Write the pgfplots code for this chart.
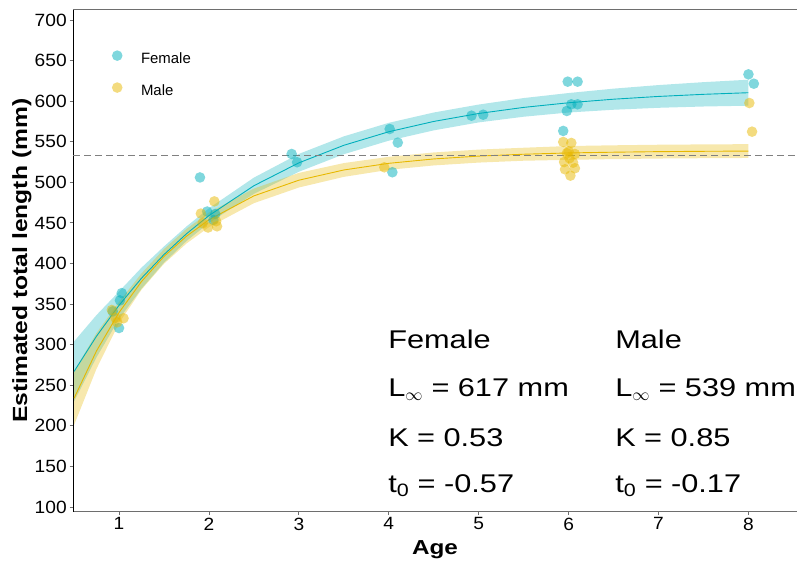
\documentclass[border=0pt]{standalone}
\usepackage{pgfplots}
\pgfplotsset{compat=1.18}
\usepackage{fontspec}
\setmainfont{Liberation Sans}
\newfontfamily\widefont{Liberation Sans}[FakeStretch=1.2]
\newfontfamily\tickfont{Liberation Sans}[FakeStretch=1.08]
\definecolor{fcol}{HTML}{00AFBB}
\definecolor{mcol}{HTML}{E7B800}
\definecolor{axgray}{HTML}{6E6E6E}
\newcommand{\eqs}{\hspace{0.33em}=\hspace{0.33em}}

\begin{document}
\begin{tikzpicture}
\useasboundingbox (0,0) rectangle (797bp,563bp);
\begin{axis}[
  name=ax,
  at={(73bp,51.3bp)}, anchor=south west,
  scale only axis, width=724bp, height=501.7bp,
  xmin=0.488, xmax=8.54, ymin=94.2, ymax=712.3,
  axis x line*=bottom, axis y line*=left,
  x axis line style={draw=axgray, line width=1bp, -},
  y axis line style={draw=black, line width=1bp, -},
  xtick={1,2,3,4,5,6,7,8}, ytick={100,150,...,700},
  tick align=outside, major tick length=3.5bp,
  every tick/.style={axgray, line width=0.9bp},
  /pgf/number format/assume math mode=true,
  tick label style={font=\tickfont\fontsize{17.8}{20}\selectfont, text=black},
  yticklabel style={inner sep=2.6bp},
  xticklabel style={inner sep=2.3bp},
  xlabel={Age},
  ylabel={Estimated total length (mm)},
  xlabel style={font=\widefont\bfseries\fontsize{20.3}{24}\selectfont, at={(axis description cs:0.5,-0.0863)}, anchor=base, inner sep=0pt},
  ylabel style={font=\widefont\bfseries\fontsize{20.6}{24}\selectfont, at={(axis description cs:-0.0635,0.5)}, anchor=base, rotate=0, inner sep=0pt},
  legend style={draw=none, fill=none, at={(axis description cs:0.0535,0.92)}, anchor=north west,
    font=\fontsize{15}{18}\selectfont, row sep=15bp, inner sep=0pt,
    cells={anchor=west, inner sep=0pt},
    /tikz/every odd column/.append style={column sep=16.5bp}},
]
% confidence ribbons
\addplot[draw=none, fill=fcol, fill opacity=0.3, forget plot] coordinates {
(0.5,304) (0.75,336.5) (1,365.5) (1.25,394.9) (1.5,421) (1.75,445.6) (2,468) (2.5,505.8) (3,535) (3.5,556.6) (4,573.3) (4.5,586) (5,595.8) (5.5,603.8) (6,610) (6.5,615.4) (7,619.8) (7.5,623.4) (8,626.4)
(8,594.4) (7.5,593.4) (7,591.8) (6.5,589.4) (6,586) (5.5,580.8) (5,573.8) (4.5,564) (4,551.3) (3.5,534.6) (3,513) (2.5,485.8) (2,450) (1.75,427.6) (1.5,401) (1.25,368.9) (1,331.5) (0.75,284.5) (0.5,230)
} -- cycle;
\addplot[draw=none, fill=mcol, fill opacity=0.32, forget plot] coordinates {
(0.5,267) (0.75,314.4) (1,352.6) (1.25,387.8) (1.5,417.7) (1.75,442.6) (2,462.8) (2.5,492.3) (3,511.6) (3.5,523.7) (4,531.4) (4.5,536.8) (5,540.3) (5.5,542.6) (6,544.7) (6.5,545.6) (7,546.3) (7.5,546.7) (8,547)
(8,530) (7.5,529.7) (7,529.3) (6.5,528.6) (6,527.7) (5.5,526.6) (5,524.3) (4.5,520.8) (4,515.4) (3.5,506.7) (3,493.6) (2.5,474.3) (2,444.8) (1.75,424.6) (1.5,399.7) (1.25,367.8) (1,326.6) (0.75,270.4) (0.5,201)
} -- cycle;
% observed points
\addplot[fcol, only marks, mark=*, mark size=5.3bp, mark options={draw opacity=0, fill=fcol, fill opacity=0.5},
  legend image code/.code={\path[draw=none, fill=fcol, fill opacity=0.5] (0bp,0.35em) circle (5.3bp);}] coordinates {
(1.03,363.5) (1.01,354.5) (0.93,341) (1.00,320.5)
(1.90,506) (1.98,464) (2.07,461) (2.05,453.6)
(2.92,534.9) (2.98,524.7)
(4.01,565.7) (4.10,548.9) (4.04,512.4)
(4.92,582.1) (5.05,583.3)
(5.99,624) (6.10,624) (6.03,596.1) (6.10,596.1) (5.98,587.9) (5.94,563.3)
(8.00,633) (8.06,621.5)
};
\addlegendentry{Female}
\addplot[mcol, only marks, mark=*, mark size=5.3bp, mark options={draw opacity=0, fill=mcol, fill opacity=0.5},
  legend image code/.code={\path[draw=none, fill=mcol, fill opacity=0.5] (0bp,0.35em) circle (5.3bp);}] coordinates {
(0.92,342.7) (1.05,332.5) (0.96,333.2) (0.98,327.5)
(2.06,476.5) (1.91,461.5) (1.93,449.5) (1.99,444.3) (2.09,445.8) (2.08,452)
(3.95,518.5)
(5.94,549.7) (6.03,548.5) (5.98,535.8) (6.07,534.9) (6.01,529.6) (5.95,525) (6.05,524.2) (5.96,516) (6.07,517.3) (6.02,508.2) (6.00,538)
(8.01,597.7) (8.04,562.4)
};
\addlegendentry{Male}
% fitted curves
\addplot[fcol, line width=0.9bp, forget plot] coordinates {
(0.5,267.0) (0.75,310.5) (1,348.5) (1.25,381.9) (1.5,411.0) (1.75,436.6) (2,459.0) (2.5,495.8) (3,524.0) (3.5,545.6) (4,562.3) (4.5,575.0) (5,584.8) (5.5,592.3) (6,598.0) (6.5,602.4) (7,605.8) (7.5,608.4) (8,610.4)
};
\addplot[mcol, line width=0.9bp, forget plot] coordinates {
(0.5,234.0) (0.75,292.4) (1,339.6) (1.25,377.8) (1.5,408.7) (1.75,433.6) (2,453.8) (2.5,483.3) (3,502.6) (3.5,515.2) (4,523.4) (4.5,528.8) (5,532.3) (5.5,534.6) (6,536.2) (6.5,537.1) (7,537.8) (7.5,538.2) (8,538.5)
};
% reference line
\addplot[gray, line width=1bp, dash pattern=on 7bp off 4bp, forget plot] coordinates {(0.488,532.8) (8.54,532.8)};
% parameter annotations
\node[anchor=base west, inner sep=0pt, font=\widefont\fontsize{25.7}{30}\selectfont] at (axis cs:3.992,295.5) {Female};
\node[anchor=base west, inner sep=0pt, font=\widefont\fontsize{25.7}{30}\selectfont] at (axis cs:3.992,235.9) {L\textsubscript{$\infty$}\eqs 617 mm};
\node[anchor=base west, inner sep=0pt, font=\widefont\fontsize{25.7}{30}\selectfont] at (axis cs:3.992,174.3) {K\eqs 0.53};
\node[anchor=base west, inner sep=0pt, font=\widefont\fontsize{25.7}{30}\selectfont] at (axis cs:3.992,117.6) {t\textsubscript{0}\eqs -0.57};
\node[anchor=base west, inner sep=0pt, font=\widefont\fontsize{25.7}{30}\selectfont] at (axis cs:6.517,295.5) {Male};
\node[anchor=base west, inner sep=0pt, font=\widefont\fontsize{25.7}{30}\selectfont] at (axis cs:6.517,235.9) {L\textsubscript{$\infty$}\eqs 539 mm};
\node[anchor=base west, inner sep=0pt, font=\widefont\fontsize{25.7}{30}\selectfont] at (axis cs:6.517,174.3) {K\eqs 0.85};
\node[anchor=base west, inner sep=0pt, font=\widefont\fontsize{25.7}{30}\selectfont] at (axis cs:6.517,117.6) {t\textsubscript{0}\eqs -0.17};
\end{axis}
\draw[axgray, line width=1bp] (ax.north west) -- (ax.north east);
\end{tikzpicture}
\end{document}
